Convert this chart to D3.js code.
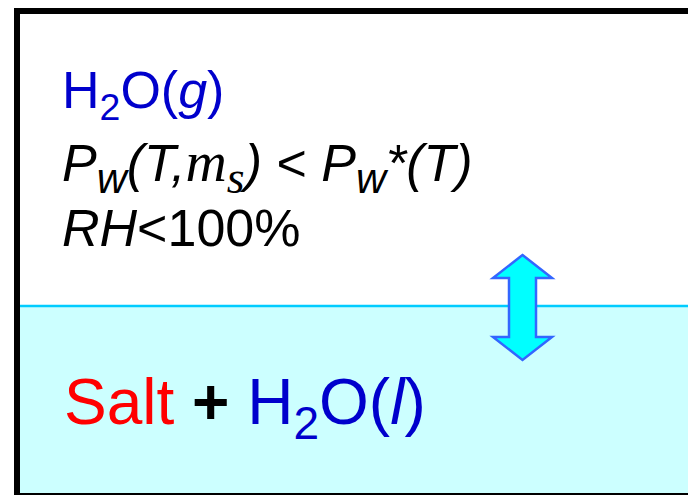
<!DOCTYPE html>
<html>
<head>
<meta charset="utf-8">
<script src="https://cdn.jsdelivr.net/npm/d3@7"></script>
<style>
  body { margin: 0; background: #fff; }
  text { font-family: "Liberation Sans", Arial, sans-serif; }
</style>
</head>
<body>
<svg id="mainsvg"></svg>
<script>
// text runs: [text, colour, italic, shift ("sub" or ""), font]
let vapourLine = [["H", "#0000CC", false, ""], ["2", "#0000CC", false, "sub"], ["O(", "#0000CC", false, ""], ["g", "#0000CC", true, ""], [")", "#0000CC", false, ""]];
let pressureLine = [["P", "#000", true, ""], ["w", "#000", true, "sub"], ["(T,", "#000", true, ""], ["m", "#000", true, "", "serif"], ["s", "#000", true, "sub", "serif"], [")", "#000", true, ""], [" < ", "#000", false, ""], ["P", "#000", true, ""], ["w", "#000", true, "sub"], ["*(T)", "#000", true, ""]];
let humidityLine = [["RH", "#000", true, ""], ["<100%", "#000", false, ""]];
let solutionLine = [["Salt", "#FF0000", false, ""], [" + ", "#000", false, "", "bold"], ["H", "#0000CC", false, ""], ["2", "#0000CC", false, "sub"], ["O(", "#0000CC", false, ""], ["l", "#0000CC", true, ""], [")", "#0000CC", false, ""]];

let svgWidth = 688,
    svgHeight = 495,
    box = {left: 17, top: 11, border: 6},
    surfaceY = 306;

let mainsvg = d3.select("#mainsvg").attr("width", svgWidth).attr("height", svgHeight);

// liquid layer
mainsvg.append("rect")
    .attr("x", box.left).attr("y", surfaceY)
    .attr("width", svgWidth).attr("height", svgHeight - surfaceY)
    .attr("fill", "#CCFFFF");
mainsvg.append("line")
    .attr("x1", box.left).attr("x2", svgWidth)
    .attr("y1", surfaceY).attr("y2", surfaceY)
    .attr("stroke", "#00CCFF").attr("stroke-width", 2.5);

// frame
mainsvg.append("rect")
    .attr("x", box.left).attr("y", box.top)
    .attr("width", svgWidth + 20).attr("height", svgHeight - box.top - 2 + box.border / 2)
    .attr("fill", "none").attr("stroke", "#000").attr("stroke-width", box.border);

// double arrow
let ax = 522.5, arrowTop = 255, arrowBottom = 360, headH = 23, headW = 29.5, shaftW = 13.5;
let arrow = [
    [ax, arrowTop], [ax + headW, arrowTop + headH], [ax + shaftW, arrowTop + headH],
    [ax + shaftW, arrowBottom - headH], [ax + headW, arrowBottom - headH], [ax, arrowBottom],
    [ax - headW, arrowBottom - headH], [ax - shaftW, arrowBottom - headH],
    [ax - shaftW, arrowTop + headH], [ax - headW, arrowTop + headH]
];
mainsvg.append("path")
    .attr("d", d3.line()(arrow) + "Z")
    .attr("fill", "#00FFFF").attr("stroke", "#3366FF").attr("stroke-width", 2.5)
    .attr("stroke-linejoin", "miter");

function drawLine(runs, x, y, size, subScale) {
    let t = mainsvg.append("text").attr("x", x).attr("y", y).attr("font-size", size)
        .style("white-space", "pre");
    let shifted = false;
    runs.forEach(r => {
        let s = t.append("tspan").text(r[0]).attr("fill", r[1]);
        let fs = size;
        if (r[2]) s.attr("font-style", "italic");
        if (r[4] === "serif") { s.attr("font-family", "'Liberation Serif', 'Times New Roman', serif"); fs = size * 1.1; }
        if (r[4] === "bold") s.attr("font-weight", "bold");
        if (r[3] === "sub") fs = fs * subScale;
        s.attr("font-size", fs);
        if (r[3] === "sub" && !shifted) { s.attr("dy", size * 0.24); shifted = true; }
        else if (r[3] !== "sub" && shifted) { s.attr("dy", -size * 0.24); shifted = false; }
    });
}

drawLine(vapourLine, 62, 108, 52, 0.72);
drawLine(pressureLine, 62, 181, 52, 0.8);
drawLine(humidityLine, 62, 246, 52, 0.72);
drawLine(solutionLine, 64, 424, 64, 0.72);
</script>
</body>
</html>
